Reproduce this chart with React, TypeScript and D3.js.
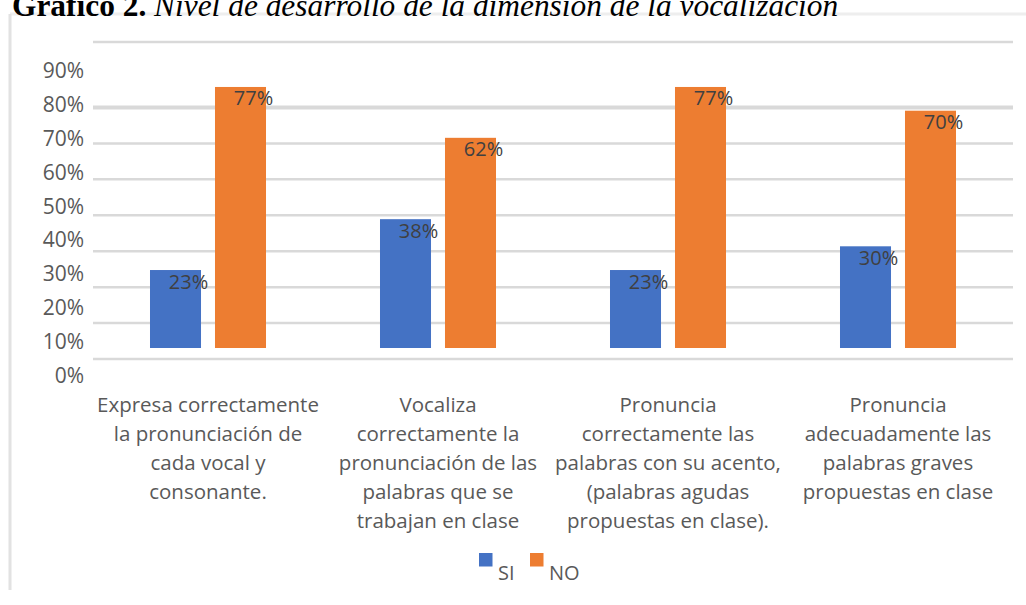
import React from "react";
import * as d3 from "d3";

// chart values
const categories = ["c1", "c2", "c3", "c4"];
const categoryLines = [
  ["Expresa correctamente", "la pronunciación de", "cada vocal y", "consonante."],
  ["Vocaliza", "correctamente la", "pronunciación de las", "palabras que se", "trabajan en clase"],
  ["Pronuncia", "correctamente las", "palabras con su acento,", "(palabras agudas", "propuestas en clase)."],
  ["Pronuncia", "adecuadamente las", "palabras graves", "propuestas en clase"],
];
const series = ["SI", "NO"];
const siValues = [0.23, 0.38, 0.23, 0.3];
const noValues = [0.77, 0.62, 0.77, 0.7];
const tickValues = [0, 0.1, 0.2, 0.3, 0.4, 0.5, 0.6, 0.7, 0.8, 0.9];
const gridValues = [0, 0.1, 0.2, 0.3, 0.4, 0.5, 0.6, 0.7];

const W = 1026;
const H = 605;
const colors = { SI: "#4472C4", NO: "#ED7D31" };
const font = "'Open Sans', 'Noto Sans', sans-serif";
const plotLeft = 93;
const plotRight = 1013;
const plotTop = 42;

const App = () => {
  const x0 = d3.scaleBand().domain(categories).range([plotLeft, plotRight]);
  const x1 = d3
    .scaleBand()
    .domain(series)
    .range([0, x0.bandwidth()])
    .paddingInner(0.215)
    .paddingOuter(0.877);
  // bars
  const y = d3.scaleLinear().domain([0, 1]).range([348, 9]);
  // axis labels and gridlines (they sit a little apart in the original)
  const tickY = d3.scaleLinear().domain([0, 0.9]).range([375, 70]);
  const gridY = d3.scaleLinear().domain([0, 0.7]).range([359, 107.5]);
  const legendX = d3.scalePoint().domain(series).range([479, 530]);
  const pct = d3.format(".0%");

  const bars = [];
  categories.forEach((c, i) => {
    [siValues[i], noValues[i]].forEach((v, j) => {
      bars.push({ cat: c, key: series[j], value: v });
    });
  });

  return (
    <svg
      width={W}
      height={H}
      style={{ position: "absolute", left: 0, top: 0, background: "#fff" }}
    >
      {/* chart frame */}
      <line x1={10} x2={W} y1={14} y2={14} stroke="#eeeeee" strokeWidth={3} />
      <line x1={10} x2={10} y1={14} y2={590} stroke="#e2e2e2" strokeWidth={3} />

      {/* title */}
      <text x={12} y={15.5} fontFamily="'Liberation Serif', 'Times New Roman', serif" fontSize={31.4} fill="#000">
        <tspan fontWeight="bold">Gráfico 2.</tspan>
        <tspan fontStyle="italic"> Nivel de desarrollo de la dimensión de la vocalización</tspan>
      </text>

      {/* gridlines */}
      <line x1={plotLeft} x2={plotRight} y1={plotTop} y2={plotTop} stroke="#d9d9d9" strokeWidth={2.5} />
      {gridValues.map((g) => (
        <line
          key={g}
          x1={plotLeft}
          x2={plotRight}
          y1={gridY(g)}
          y2={gridY(g)}
          stroke="#d9d9d9"
          strokeWidth={g === 0.7 ? 4 : 2.5}
        />
      ))}

      {/* y tick labels */}
      {tickValues.map((t) => (
        <text
          key={t}
          x={84}
          y={tickY(t)}
          textAnchor="end"
          dominantBaseline="central"
          fontFamily={font}
          fontSize={21}
          fill="#595959"
        >
          {pct(t)}
        </text>
      ))}

      {/* bars */}
      {bars.map((b) => (
        <rect
          key={b.cat + b.key}
          x={x0(b.cat) + x1(b.key)}
          y={y(b.value)}
          width={x1.bandwidth()}
          height={y(0) - y(b.value)}
          fill={colors[b.key]}
        />
      ))}

      {/* data labels */}
      {bars.map((b) => (
        <text
          key={"l" + b.cat + b.key}
          x={x0(b.cat) + x1(b.key) + x1.bandwidth() / 2 + 13}
          y={y(b.value) + 11}
          textAnchor="middle"
          dominantBaseline="central"
          fontFamily={font}
          fontSize={20}
          fill="#404040"
        >
          {pct(b.value)}
        </text>
      ))}

      {/* category labels */}
      {categories.map((c, i) => (
        <text
          key={"c" + c}
          x={x0(c) + x0.bandwidth() / 2}
          y={412}
          textAnchor="middle"
          fontFamily={font}
          fontSize={20.5}
          fill="#595959"
        >
          {categoryLines[i].map((line, k) => (
            <tspan key={k} x={x0(c) + x0.bandwidth() / 2} dy={k === 0 ? 0 : 29}>
              {line}
            </tspan>
          ))}
        </text>
      ))}

      {/* legend */}
      {series.map((s) => (
        <g key={"lg" + s}>
          <rect x={legendX(s)} y={553} width={13.5} height={13.5} fill={colors[s]} />
          <text
            x={legendX(s) + 19}
            y={580}
            fontFamily={font}
            fontSize={20}
            fill="#595959"
          >
            {s}
          </text>
        </g>
      ))}
    </svg>
  );
};

export default App;
